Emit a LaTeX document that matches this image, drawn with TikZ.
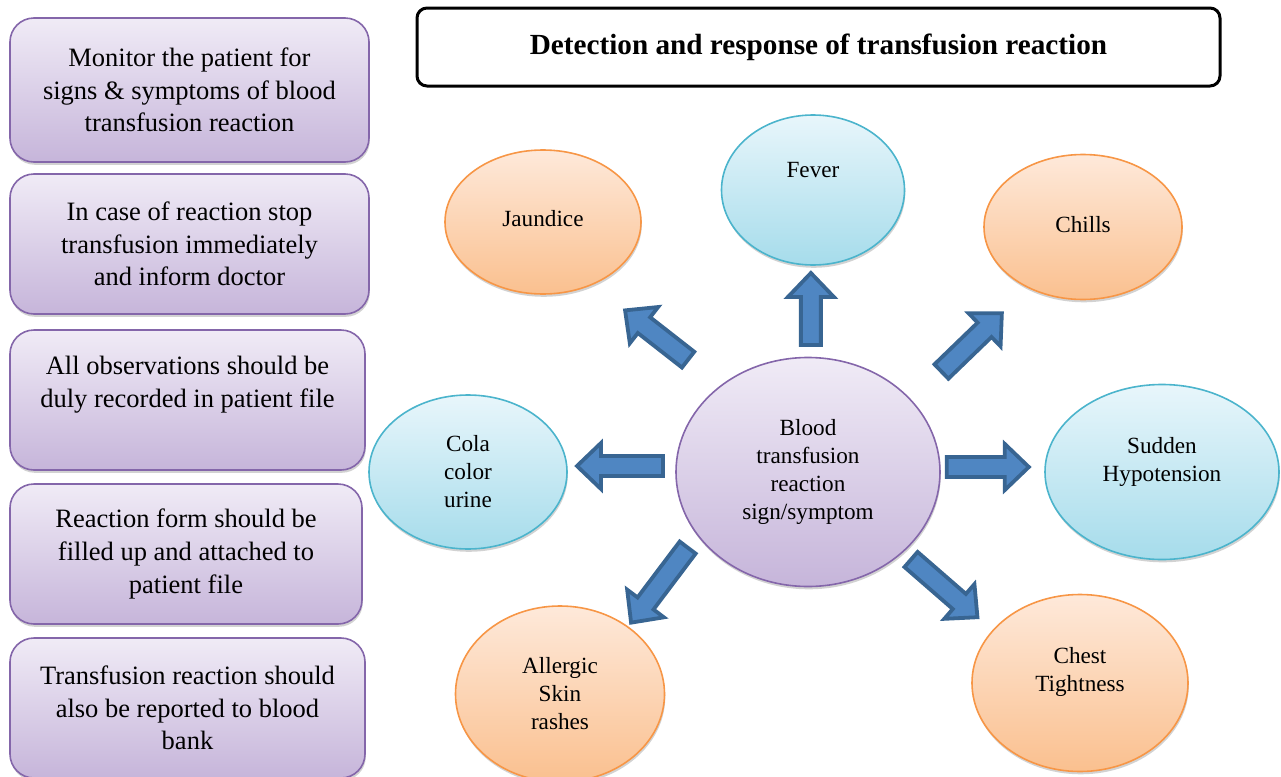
\documentclass[tikz,border=0pt]{standalone}
\usepackage{fontspec}
\setmainfont{Liberation Serif}
\usetikzlibrary{calc,shapes.geometric,shadows}

\definecolor{boxline}{HTML}{8466AA}
\definecolor{boxtop}{HTML}{F0EBF6}
\definecolor{boxbot}{HTML}{C6B5DA}
\definecolor{cyanline}{HTML}{4BB4CC}
\definecolor{cyantop}{HTML}{E8F6FB}
\definecolor{cyanbot}{HTML}{A6DCEB}
\definecolor{orangeline}{HTML}{F79646}
\definecolor{orangetop}{HTML}{FEE9DA}
\definecolor{orangebot}{HTML}{FAC08F}
\definecolor{arrfill}{HTML}{4F86C2}
\definecolor{arrline}{HTML}{386592}

\begin{document}
\begin{tikzpicture}[x=0.5pt,y=-0.5pt,outer sep=0pt,inner sep=0pt,
    softshadow/.style={drop shadow={shadow xshift=0.4pt,shadow yshift=-1.4pt,opacity=0.25,fill=black!70}},
    stepbox/.style={draw=boxline,line width=0.8pt,rounded corners=12pt,top color=boxtop,bottom color=boxbot,
        anchor=north west,align=center,font=\fontsize{13.25pt}{16.3pt}\selectfont,softshadow},
    headbox/.style={draw=black,line width=1.5pt,rounded corners=5pt,fill=white,
        minimum width=401.5pt,minimum height=39pt,font=\fontsize{14.6pt}{17pt}\selectfont\bfseries},
    sign/.style={ellipse,line width=0.8pt,align=center,font=\fontsize{11.6pt}{14pt}\selectfont,softshadow},
    cool/.style={sign,draw=cyanline,top color=cyantop,bottom color=cyanbot},
    warm/.style={sign,draw=orangeline,top color=orangetop,bottom color=orangebot},
    hub/.style={sign,draw=boxline,top color=boxtop,bottom color=boxbot},
    pics/barrow/.style={code={
        \draw[line width=1.9pt,draw=arrline,fill=arrfill,line join=miter]
        (-#1,-10) -- (#1-24,-10) -- (#1-24,-23) -- (#1,0) -- (#1-24,23) -- (#1-24,10) -- (-#1,10) -- cycle;}}]
    \useasboundingbox (0,0) rectangle (1281,777);

    % steps on the left
    \path
    (10,18) node[stepbox,minimum width=179.5pt,minimum height=72pt] (mon) {Monitor the patient for\\signs \& symptoms of blood\\transfusion reaction}
    (10,174) node[stepbox,minimum width=179.5pt,minimum height=70pt] (stop) {In case of reaction stop\\transfusion immediately\\and inform doctor}
    (10,330) node[stepbox,minimum width=177.5pt,minimum height=70pt,text depth=18pt] (obs) {All observations should be\\duly recorded in patient file}
    (10,484) node[stepbox,minimum width=176pt,minimum height=70pt] (form) {Reaction form should be\\filled up and attached to\\patient file}
    (10,638) node[stepbox,minimum width=177.5pt,minimum height=70pt] (bank) {Transfusion reaction should\\also be reported to blood\\bank}
    ;

    \node[headbox] (head) at (818.5,47) {Detection and response of transfusion reaction};

    % signs round the centre
    \path
    (808,472) node[hub,minimum width=132pt,minimum height=114.5pt] (core) {Blood\\transfusion\\reaction\\sign/symptom}
    (813,190) node[cool,minimum width=91.5pt,minimum height=75pt,text depth=20pt] (fever) {Fever}
    (543,222) node[warm,minimum width=98pt,minimum height=72pt,text depth=4pt] (jaund) {Jaundice}
    (1083,227) node[warm,minimum width=99pt,minimum height=72.5pt,text depth=3pt] (chills) {Chills}
    (468,472) node[cool,minimum width=99pt,minimum height=77pt] (cola) {Cola\\color\\urine}
    (1162,472) node[cool,minimum width=117pt,minimum height=87.5pt,text depth=13pt] (hypo) {Sudden\\Hypotension}
    (560,694) node[warm,minimum width=104.5pt,minimum height=88pt] (rash) {Allergic\\Skin\\rashes}
    (1080,683) node[warm,minimum width=108pt,minimum height=88.5pt,text depth=14pt] (chest) {Chest\\Tightness}
    ;

    \pic[rotate=90] at ($(core)!0.578!(fever)$) {barrow=36};
    \pic[rotate=142] at ($(core)!0.56!(jaund)+(-3,3)$) {barrow=40};
    \pic[rotate=44] at ($(core)!0.566!(chills)+(8,9)$) {barrow=42};
    \pic[rotate=180] at ($(core)!0.553!(cola)+(0,-6)$) {barrow=43};
    \pic[rotate=0] at ($(core)!0.508!(hypo)+(0,-5)$) {barrow=41};
    \pic[rotate=233] at ($(core)!0.559!(rash)+(-10,-11)$) {barrow=47};
    \pic[rotate=-41] at ($(core)!0.523!(chest)+(-6,6)$) {barrow=44};
\end{tikzpicture}
\end{document}
